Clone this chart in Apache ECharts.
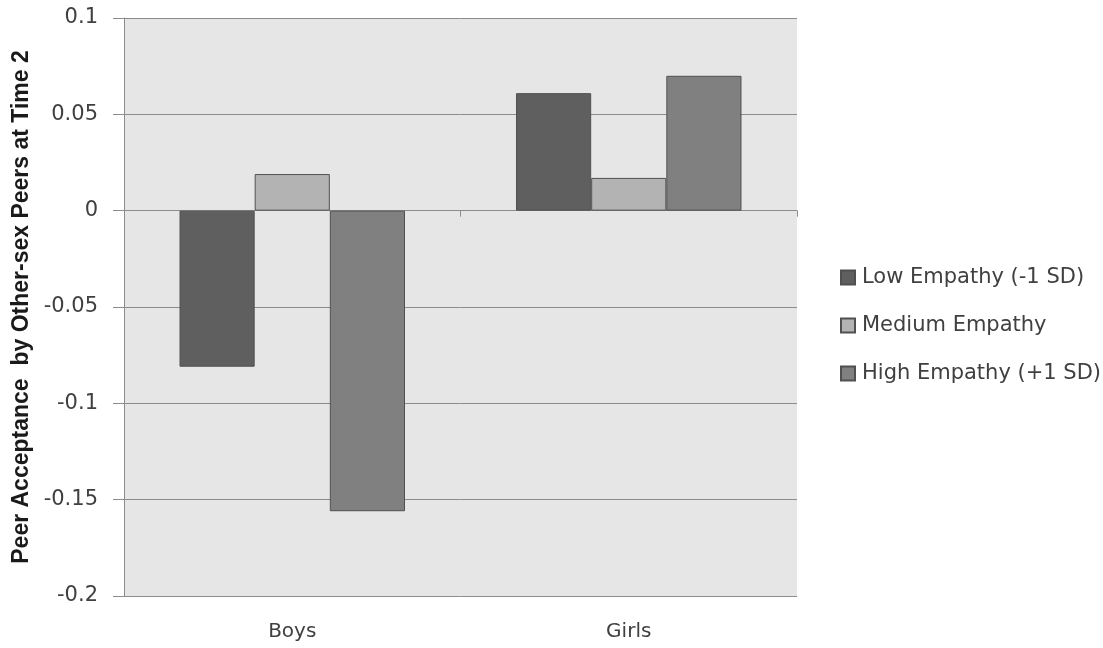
<!DOCTYPE html>
<html>
<head>
<meta charset="utf-8">
<style>
  html, body { margin: 0; padding: 0; background: #ffffff; }
  #chart { width: 1103px; height: 648px; }
</style>
<script src="https://cdn.jsdelivr.net/npm/echarts@6/dist/echarts.min.js"></script>
</head>
<body>
<div id="chart"></div>
<script>
// Groups along the category axis
const categories = ['Boys', 'Girls'];

// Peer acceptance by empathy level
const lowEmpathy = [-0.081, 0.061];
const mediumEmpathy = [0.019, 0.017];
const highEmpathy = [-0.156, 0.070];

const seriesNames = ['Low Empathy (-1 SD)', 'Medium Empathy', 'High Empathy (+1 SD)'];
const seriesColors = ['#5f5f5f', '#b3b3b3', '#808080'];

const axisTitle = 'Peer Acceptance  by Other-sex Peers at Time 2';

const gridColor = '#8c8c8c';
const textFont = '"DejaVu Sans", Verdana, sans-serif';
const textColor = '#404040';

const chart = echarts.init(document.getElementById('chart'), null, { renderer: 'canvas' });

function barSeries(name, values, color) {
  return {
    name: name,
    type: 'bar',
    xAxisIndex: 0,
    data: values,
    barGap: '0%',
    barCategoryGap: '33%',
    itemStyle: { color: color, borderColor: '#505050', borderWidth: 1 },
    emphasis: { disabled: true }
  };
}

chart.setOption({
  animation: false,
  backgroundColor: '#ffffff',
  grid: {
    left: 124, right: 306, top: 18, bottom: 52,
    show: true, backgroundColor: '#e6e6e6', borderWidth: 0
  },
  legend: {
    orient: 'vertical',
    left: 835,
    top: 262,
    padding: 5,
    itemWidth: 14,
    itemHeight: 14,
    itemGap: 27,
    icon: 'rect',
    data: seriesNames,
    textStyle: { fontFamily: textFont, fontSize: 21, color: textColor, padding: [0, 0, 0, 2] }
  },
  xAxis: [
    {
      // axis line drawn through zero, with boundary ticks
      type: 'category',
      data: categories,
      position: 'bottom',
      axisLine: { onZero: true, lineStyle: { color: gridColor, width: 1 } },
      axisTick: { show: true, length: 6, lineStyle: { color: gridColor } },
      axisLabel: { show: false },
      splitLine: { show: false }
    },
    {
      // category names along the bottom edge
      type: 'category',
      data: categories,
      position: 'bottom',
      axisLine: { show: false, onZero: false },
      axisTick: { show: false },
      axisLabel: {
        show: true, margin: 26,
        fontFamily: textFont, fontSize: 20, color: textColor
      },
      splitLine: { show: false }
    }
  ],
  yAxis: {
    type: 'value',
    min: -0.2,
    max: 0.1,
    interval: 0.05,
    name: axisTitle,
    nameLocation: 'middle',
    nameGap: 91,
    nameTextStyle: {
      fontFamily: '"Liberation Sans", Arial, sans-serif',
      fontWeight: 'bold', fontSize: 23, color: '#1a1a1a'
    },
    axisLine: { show: true, lineStyle: { color: gridColor, width: 1 } },
    axisTick: { show: true, length: 11, lineStyle: { color: gridColor } },
    axisLabel: {
      margin: 26,
      fontFamily: textFont, fontSize: 21, color: textColor,
      formatter: function (v) { return String(Math.round(v * 100) / 100); }
    },
    splitLine: { show: true, lineStyle: { color: gridColor, width: 1 } }
  },
  series: [
    barSeries(seriesNames[0], lowEmpathy, seriesColors[0]),
    barSeries(seriesNames[1], mediumEmpathy, seriesColors[1]),
    barSeries(seriesNames[2], highEmpathy, seriesColors[2])
  ]
});
</script>
</body>
</html>
